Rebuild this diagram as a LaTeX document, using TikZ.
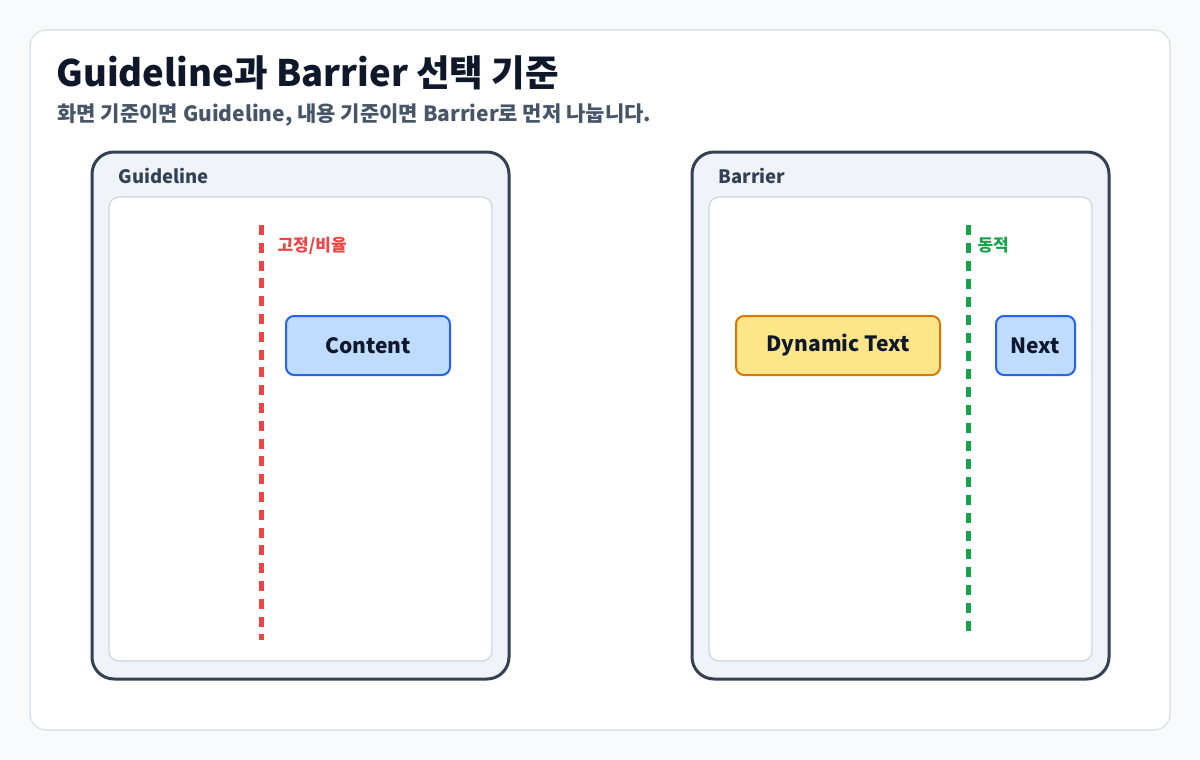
\documentclass[tikz,border=0pt]{standalone}
\usepackage{fontspec}
\setmainfont{Noto Sans CJK KR}
\usetikzlibrary{positioning}
\definecolor{bgc}{HTML}{F8FAFC}
\definecolor{cardline}{HTML}{DBE4F0}
\definecolor{ink}{HTML}{0F172A}
\definecolor{subink}{HTML}{475569}
\definecolor{panelfill}{HTML}{F0F4F9}
\definecolor{panelline}{HTML}{334155}
\definecolor{innerline}{HTML}{CBD5E1}
\definecolor{fixred}{HTML}{EF4444}
\definecolor{dyngreen}{HTML}{16A34A}
\definecolor{blueline}{HTML}{2563EB}
\definecolor{bluefill}{HTML}{BFDBFE}
\definecolor{amberline}{HTML}{D97706}
\definecolor{amberfill}{HTML}{FDE68A}

\begin{document}
\begin{tikzpicture}[x=1pt,y=-1pt]
    \tikzset{ panel/.style ={draw=panelline, fill=panelfill, line width=3pt, rounded corners=22pt} }
    \tikzset{ inner/.style ={draw=innerline, fill=white, line width=1.2pt, rounded corners=10pt} }
    \tikzset{ guide/.style ={line width=5pt, dash pattern=on 10pt off 8pt} }
    \tikzset{ box/.style   ={line width=2pt, rounded corners=8pt, minimum height=59pt, font=\bfseries\fontsize{21}{25}\selectfont, text=ink, inner sep=0pt} }
    \tikzset{ plabel/.style={anchor=west, font=\bfseries\fontsize{18.5}{22}\selectfont, text=panelline} }

    \fill[bgc] (0,0) rectangle (1200,760);
    \useasboundingbox (0,0) rectangle (1200,760);
    \draw[cardline, fill=white, line width=1.5pt, rounded corners=16pt] (30,30) rectangle (1170,730);

    \node[anchor=west, text=ink, font=\bfseries\fontsize{36.5}{42}\selectfont] (title) at (53,73) {Guideline과 Barrier 선택 기준};
    \node[anchor=west, text=subink, font=\bfseries\fontsize{21}{25}\selectfont] (subtitle) at (54,115) {화면 기준이면 Guideline, 내용 기준이면 Barrier로 먼저 나눕니다.};

    % Guideline
    \draw[panel] (92,152) rectangle (509,679);
    \node[plabel] (glabel) at (115,176) {Guideline};
    \draw[inner] (109,197) rectangle (492,661);
    \coordinate (gtop) at (261,225);
    \coordinate (gbot) at (261,640);
    \draw[guide, fixred, dash pattern=on 10pt off 7.8pt] (gtop) -- (gbot);
    \node[anchor=west, text=fixred, font=\bfseries\fontsize{17}{20}\selectfont] (gtag) at (274,246) {고정/비율};
    \node[box, draw=blueline, fill=bluefill, minimum width=164pt] (content) at (368,345.5) {Content};

    % Barrier
    \draw[panel] (692,152) rectangle (1109,679);
    \node[plabel] (blabel) at (715,176) {Barrier};
    \draw[inner] (709,197) rectangle (1092,661);
    \coordinate (btop) at (968,225);
    \coordinate (bbot) at (968,633);
    \draw[guide, dyngreen] (btop) -- (bbot);
    \node[anchor=west, text=dyngreen, font=\bfseries\fontsize{17}{20}\selectfont] (btag) at (974,245) {동적};
    \node[box, draw=amberline, fill=amberfill, minimum width=204pt] (dyn) at (838,345.5) {Dynamic Text};
    \node[box, draw=blueline, fill=bluefill, minimum width=79pt] (next) at (1035.5,345.5) {Next};
\end{tikzpicture}
\end{document}
